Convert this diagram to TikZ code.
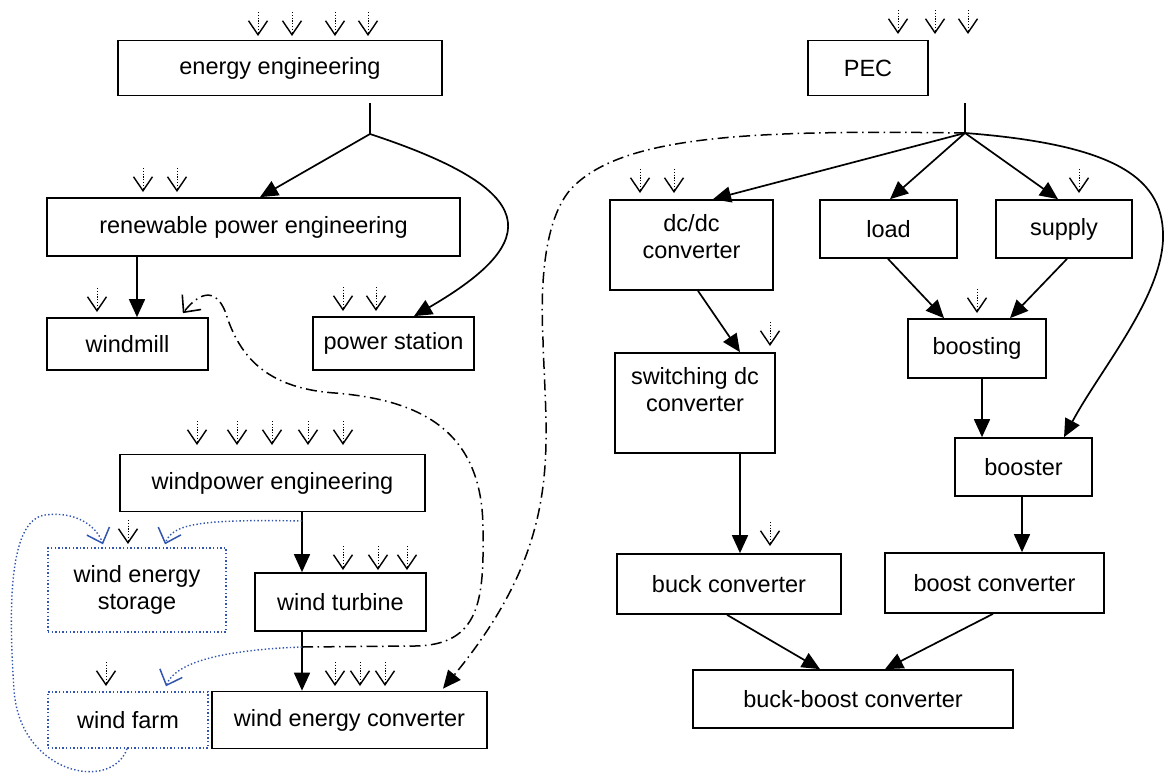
\documentclass[tikz,border=0pt]{standalone}
\usepackage{fontspec}
\setmainfont{Liberation Sans}
\usetikzlibrary{arrows.meta,calc}
\definecolor{myblue}{RGB}{50,85,175}
\begin{document}
\begin{tikzpicture}[x=1pt,y=-1pt,
  box/.style={draw, line width=1.7pt, inner sep=0pt, align=center,
    font=\fontsize{23.5}{27}\selectfont},
  bluebox/.style={box, draw=myblue, line width=1.4pt, dash pattern=on 1.4pt off 2.2pt},
  conn/.style={line width=1.7pt},
  arr/.style={conn, -{Triangle[length=18pt,width=16pt]}},
  dashdot/.style={line width=1.5pt, dash pattern=on 11pt off 4.5pt on 1.5pt off 4.5pt},
  inarr/.style={line width=1pt, dash pattern=on 1.2pt off 1.6pt,
    -{Straight Barb[length=14pt,width=19pt,line width=1.4pt]}},
  openarr/.style={-{Straight Barb[length=13pt,width=24pt,line width=1.6pt]}},
  bluearr/.style={draw=myblue, line width=1.4pt, dash pattern=on 1.4pt off 2.2pt,
    -{Straight Barb[length=13pt,width=24pt,line width=1.5pt,color=myblue]}}
]
\useasboundingbox (0,0) rectangle (1166,774);

% ---------- left part ----------
\node[box, minimum width=324, minimum height=55] (ee) at (280,68) {energy engineering};
\node[box, minimum width=413, minimum height=58] (rpe) at (253.5,227) {renewable power engineering};
\node[box, minimum width=161, minimum height=52] (windmill) at (127.5,344) {windmill};
\node[box, minimum width=161, minimum height=53] (ps) at (393.5,343.5) {power station};
\node[box, minimum width=305, minimum height=57] (wpe) at (272.5,483) {windpower engineering};
\node[bluebox, minimum width=178, minimum height=84] (wes) at (137,590) {wind energy\\storage};
\node[box, minimum width=171, minimum height=58] (wt) at (340.5,602) {wind turbine};
\node[bluebox, minimum width=160, minimum height=56] (wf) at (128,720) {wind farm};
\node[box, minimum width=275, minimum height=57] (wec) at (349.5,720) {wind energy converter};

% ---------- right part ----------
\node[box, minimum width=120, minimum height=55] (pec) at (868,68) {PEC};
\node[box, minimum width=163, minimum height=90] (dcdc) at (691.5,245)
  {\raisebox{5pt}[\height][\depth]{\begin{tabular}{@{}c@{}}dc/dc\\converter\end{tabular}}};
\node[box, minimum width=137, minimum height=58] (load) at (888.5,229) {load};
\node[box, minimum width=136, minimum height=58] (supply) at (1064,229) {supply};
\node[box, minimum width=138, minimum height=59] (boosting) at (977,348.5) {boosting};
\node[box, minimum width=160, minimum height=100] (sdc) at (695,403)
  {\raisebox{10pt}[\height][\depth]{\begin{tabular}{@{}c@{}}switching dc\\converter\end{tabular}}};
\node[box, minimum width=137, minimum height=58] (booster) at (1023.5,467) {booster};
\node[box, minimum width=224, minimum height=60] (buck) at (729,584) {buck converter};
\node[box, minimum width=219, minimum height=60] (boost) at (994.5,583) {boost converter};
\node[box, minimum width=320, minimum height=58] (bb) at (853,699) {buck-boost converter};

% ---------- junction points ----------
\coordinate (j1top) at (370,103);
\coordinate (j1) at (370,134);
\coordinate (j2top) at (965,103);
\coordinate (j2) at (965,133);
\coordinate (j3) at (302,647);
\coordinate (j4) at (302,521);

% ---------- left connectors ----------
\draw[conn] (j1top) -- (j1);
\draw[arr] (j1) -- (rpe.north -| 260,0);
\draw[arr] (j1) .. controls (540,190) and (545,240) .. (ps.north -| 414,0);
\draw[arr] (rpe.south -| 137,0) -- (windmill.north -| 137,0);
\draw[arr] (wpe.south -| 302,0) -- (wt.north -| 302,0);
\draw[arr] (wt.south -| 302,0) -- (wec.north -| 302,0);

\draw[dashdot, openarr] (j3) -- (415,646)
  .. controls (480,645) and (484,600) .. (483,530)
  .. controls (483,430) and (420,400) .. (335,393)
  .. controls (262,388) and (240,352) .. (228,320)
  .. controls (221,294) and (206,284) .. ($(windmill.north east)+(-26,-4)$);

\draw[bluearr] (j4) .. controls (200,519) and (172,524) .. ($(wes.north -| 165,0)+(0,-3)$);
\draw[bluearr] (wf.south -| 127,0) .. controls (112,792) and (20,775) .. (14,690)
  .. controls (8,600) and (10,520) .. (45,515)
  .. controls (75,511) and (96,525) .. ($(wes.north -| 103,0)+(0,-3)$);
\draw[bluearr] (j3) .. controls (220,650) and (175,663) .. ($(wf.north -| 166,0)+(0,-5)$);

% ---------- right connectors ----------
\draw[conn] (j2top) -- (j2);
\draw[arr] (j2) -- (dcdc.north -| 713,0);
\draw[arr] (j2) -- (load.north -| 890,0);
\draw[arr] (j2) -- (supply.north -| 1058,0);
\draw[arr] (j2) .. controls (1120,145) and (1165,180) .. (1163,240)
  .. controls (1160,300) and (1100,370) .. (booster.north -| 1064,0);
\draw[arr] (load.south -| 888,0) -- (boosting.north -| 944,0);
\draw[arr] (supply.south -| 1067,0) -- (boosting.north -| 1010,0);
\draw[arr] (boosting.south -| 982,0) -- (booster.north -| 982,0);
\draw[arr] (booster.south -| 1022,0) -- (boost.north -| 1022,0);
\draw[arr] (dcdc.south -| 698,0) -- (sdc.north -| 740,0);
\draw[arr] (sdc.south -| 740,0) -- (buck.north -| 740,0);
\draw[arr] (buck.south -| 727,0) -- (bb.north -| 820,0);
\draw[arr] (boost.south -| 993,0) -- (bb.north -| 885,0);

\draw[dashdot, -{Triangle[length=18pt,width=16pt]}] (j2)
  .. controls (750,130) and (620,135) .. (570,190)
  .. controls (545,220) and (540,280) .. (543,340)
  .. controls (546,450) and (565,540) .. ($(wec.north -| 443,0)+(0,-2)$);

% ---------- small dotted input arrows ----------
\foreach \x/\y in {258/36,292/36,335/36,368/36,
                   898/34,935/34,968/34,
                   143/192,177/192,
                   97/312,
                   343/311,376/311,
                   197/445,237/445,272/445,308/445,343/445,
                   128/544,
                   343/570,378/570,407/570,
                   106/686,
                   335/686,360/686,385/686,
                   640/193,674/193,
                   1079/193,
                   977/313,
                   770/346,
                   770/546}
  \draw[inarr] (\x,\y-24) -- (\x,\y);
\end{tikzpicture}
\end{document}
